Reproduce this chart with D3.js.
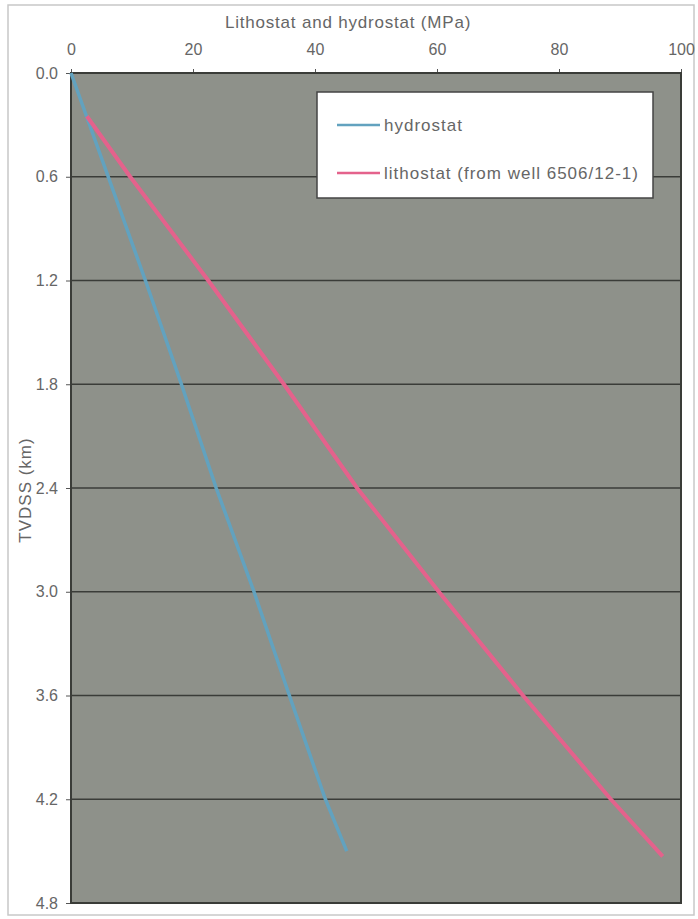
<!DOCTYPE html>
<html><head><meta charset="utf-8">
<script src="https://cdn.jsdelivr.net/npm/d3@7"></script>
<style>html,body{margin:0;padding:0;background:#fff;}svg{display:block;font-family:"Liberation Sans",Arial,sans-serif;}</style>
</head><body>
<script>
// Data
const xTicks = [0, 20, 40, 60, 80, 100];
const yTicks = [0.0, 0.6, 1.2, 1.8, 2.4, 3.0, 3.6, 4.2, 4.8];
const hydroDepth = [0, 1.2, 1.8, 2.4, 3.0, 3.6, 4.2, 4.5];
const hydroPressure = [0, 12.2, 18.1, 23.8, 30.0, 35.8, 41.7, 45.2];
const lithoDepth = [0.25, 0.6, 1.2, 1.8, 2.4, 3.0, 3.6, 4.2, 4.53];
const lithoPressure = [2.6, 9.7, 22.5, 34.9, 46.9, 60.3, 74.1, 88.5, 97.0];
const seriesNames = ["hydrostat", "lithostat (from well 6506/12-1)"];
const seriesColors = ["#62a2bf", "#e4628c"];

(function () {
const W = 698, H = 919;
const pL = 71, pR = 681, pT = 73, pB = 903;
const svg = d3.select("body").append("svg").attr("width", W).attr("height", H);

// outer frame
svg.append("rect").attr("x", 8).attr("y", 5).attr("width", 686).attr("height", 910)
  .attr("fill", "none").attr("stroke", "#c8c8c8").attr("stroke-width", 1.5);

const x = d3.scaleLinear().domain([0, 100]).range([pL, pR]);
const y = d3.scaleLinear().domain([0, 4.8]).range([pT, pB]);

// plot background
svg.append("rect").attr("x", pL).attr("y", pT).attr("width", pR - pL).attr("height", pB - pT)
  .attr("fill", "#8e918a");

// grid lines
svg.append("g").selectAll("line").data(yTicks.slice(1, -1)).join("line")
  .attr("x1", pL).attr("x2", pR).attr("y1", d => y(d)).attr("y2", d => y(d))
  .attr("stroke", "#3a3c38").attr("stroke-width", 1.5);

// axes
const xAxis = d3.axisTop(x).tickValues(xTicks).tickSize(4).tickPadding(14).tickFormat(d3.format("d"));
const gx = svg.append("g").attr("transform", `translate(0,${pT})`).call(xAxis);
gx.select(".domain").remove();
gx.selectAll("line").attr("stroke", "#555");
gx.selectAll("text").attr("font-size", 16).attr("fill", "#666").attr("font-family", "Liberation Sans, Arial, sans-serif");

const yAxis = d3.axisLeft(y).tickValues(yTicks).tickSize(5).tickPadding(8).tickFormat(d3.format(".1f"));
const gy = svg.append("g").attr("transform", `translate(${pL},0)`).call(yAxis);
gy.select(".domain").remove();
gy.selectAll("line").attr("stroke", "#555");
gy.selectAll("text").attr("font-size", 16).attr("fill", "#666").attr("font-family", "Liberation Sans, Arial, sans-serif");

// plot border
svg.append("rect").attr("x", pL).attr("y", pT).attr("width", pR - pL).attr("height", pB - pT)
  .attr("fill", "none").attr("stroke", "#3a3c38").attr("stroke-width", 2);

// lines
const line = d3.line().x(d => x(d[0])).y(d => y(d[1]));
const hydro = hydroDepth.map((d, i) => [hydroPressure[i], d]);
const litho = lithoDepth.map((d, i) => [lithoPressure[i], d]);
svg.append("path").datum(hydro).attr("d", line).attr("fill", "none")
  .attr("stroke", seriesColors[0]).attr("stroke-width", 3.5);
svg.append("path").datum(litho).attr("d", line).attr("fill", "none")
  .attr("stroke", seriesColors[1]).attr("stroke-width", 4);

// titles
svg.append("text").attr("x", 348).attr("y", 28).attr("text-anchor", "middle")
  .attr("font-size", 17).attr("letter-spacing", 0.8).attr("fill", "#666")
  .text("Lithostat and hydrostat (MPa)");
svg.append("text").attr("transform", "translate(31,490) rotate(-90)").attr("text-anchor", "middle")
  .attr("font-size", 17).attr("letter-spacing", 1).attr("fill", "#666")
  .text("TVDSS (km)");

// legend
const lg = svg.append("g");
lg.append("rect").attr("x", 317).attr("y", 92).attr("width", 336).attr("height", 106)
  .attr("fill", "#fff").attr("stroke", "#444").attr("stroke-width", 1.5);
const ly = [125, 173];
seriesNames.forEach((n, i) => {
  lg.append("line").attr("x1", 337).attr("x2", 380).attr("y1", ly[i]).attr("y2", ly[i])
    .attr("stroke", seriesColors[i]).attr("stroke-width", 2.5);
  lg.append("text").attr("x", 384).attr("y", ly[i] + 6).attr("font-size", 17)
    .attr("letter-spacing", 1).attr("fill", "#666").text(n);
});
})();
</script>
</body></html>
